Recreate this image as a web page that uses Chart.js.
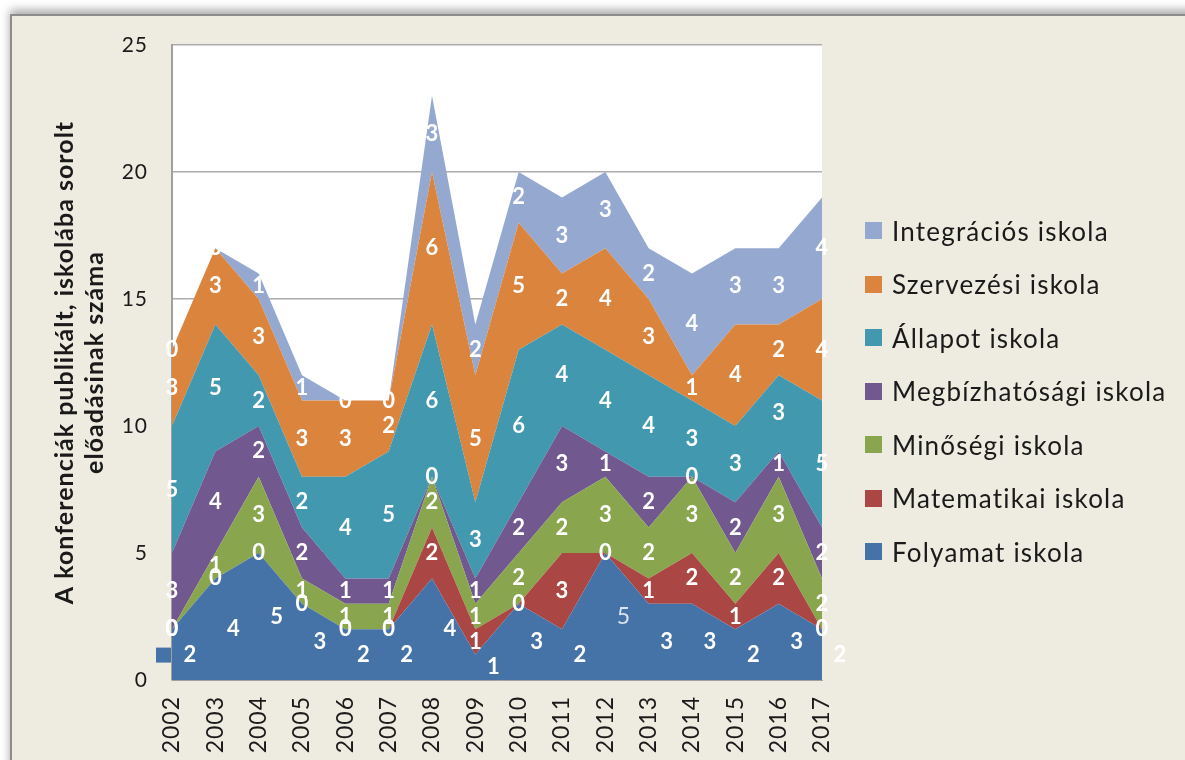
<!DOCTYPE html>
<html lang="hu">
<head>
    <meta charset="UTF-8">
    <title>Iskolába sorolt előadások</title>
    <script src="https://cdn.jsdelivr.net/npm/chart.js"></script>
    <style>
        body { margin: 0; background: #fff; width: 1185px; height: 760px; overflow: hidden; position: relative; }
        #frame {
            position: absolute; left: 10px; top: 14px; width: 1190px; height: 760px;
            background: #EEECE1;
            border-left: 2px solid #8c8c8c; border-top: 2px solid #8c8c8c;
            box-shadow: 0 -4px 9px rgba(0, 0, 0, 0.35);
        }
        #chart { position: absolute; left: 0; top: 0; }
        #legend {
            position: absolute; left: 865px; top: 204px;
            font-family: Lato, "Open Sans", sans-serif; font-size: 26px; letter-spacing: 1.2px; color: #1a1a1a;
        }
        .item { height: 53.5px; display: flex; align-items: center; white-space: nowrap; }
        .box { width: 17px; height: 17px; margin-right: 10px; }
    </style>
</head>
<body>
    <div id="frame"></div>
    <canvas id="chart" width="1185" height="760"></canvas>
    <div id="legend"></div>
    <script>
        const years = ['2002', '2003', '2004', '2005', '2006', '2007', '2008', '2009',
                       '2010', '2011', '2012', '2013', '2014', '2015', '2016', '2017'];

        // stacked from bottom to top
        const folyamat       = [2, 4, 5, 3, 2, 2, 4, 1, 3, 2, 5, 3, 3, 2, 3, 2];
        const matematikai    = [0, 0, 0, 0, 0, 0, 2, 1, 0, 3, 0, 1, 2, 1, 2, 0];
        const minosegi       = [0, 1, 3, 1, 1, 1, 2, 1, 2, 2, 3, 2, 3, 2, 3, 2];
        const megbizhatosagi = [3, 4, 2, 2, 1, 1, 0, 1, 2, 3, 1, 2, 0, 2, 1, 2];
        const allapot        = [5, 5, 2, 2, 4, 5, 6, 3, 6, 4, 4, 4, 3, 3, 3, 5];
        const szervezesi     = [3, 3, 3, 3, 3, 2, 6, 5, 5, 2, 4, 3, 1, 4, 2, 4];
        const integracios    = [0, 0, 1, 1, 0, 0, 3, 2, 2, 3, 3, 2, 4, 3, 3, 4];

        const seriesNames = ['Folyamat iskola', 'Matematikai iskola', 'Minőségi iskola',
                             'Megbízhatósági iskola', 'Állapot iskola', 'Szervezési iskola', 'Integrációs iskola'];
        const seriesData = [folyamat, matematikai, minosegi, megbizhatosagi, allapot, szervezesi, integracios];
        const colors = ['#4572A7', '#AA4643', '#89A54E', '#71588F', '#4198AF', '#DB843D', '#95A9D0'];

        const yTitle = ['A konferenciák publikált, iskolába sorolt', 'előadásinak száma'];

        // legend, top entry is the last series
        const legendEl = document.getElementById('legend');
        for (let i = seriesNames.length - 1; i >= 0; i--) {
            const row = document.createElement('div');
            row.className = 'item';
            row.innerHTML = '<span class="box" style="background:' + colors[i] + '"></span>' + seriesNames[i];
            legendEl.appendChild(row);
        }

        const plotBg = {
            id: 'plotBg',
            beforeInit(chart) {
                chart.ctx.letterSpacing = '1px';  // the original font runs wider than Lato
            },
            beforeDraw(chart) {
                const a = chart.chartArea, c = chart.ctx;
                c.letterSpacing = '1px';
                c.save();
                c.fillStyle = '#fff';
                c.fillRect(a.left, a.top, a.right - a.left, a.bottom - a.top);
                c.restore();
            }
        };

        // white value labels in the middle of every band
        const bandLabels = {
            id: 'bandLabels',
            afterDatasetsDraw(chart) {
                const c = chart.ctx, xs = chart.scales.x, ys = chart.scales.y;
                c.save();
                c.textAlign = 'center';
                c.textBaseline = 'middle';
                c.letterSpacing = '0px';
                years.forEach((yr, j) => {
                    let base = 0;
                    seriesData.forEach((arr, i) => {
                        const v = arr[j];
                        let x = xs.getPixelForValue(j);
                        const y = ys.getPixelForValue(base + v / 2);
                        if (i === 0) {
                            x += 18;
                            if (j === 0) {
                                c.fillStyle = colors[0];
                                c.fillRect(xs.getPixelForValue(0) - 16, y - 7, 15, 15);
                            }
                        }
                        if (i === 0 && j === 10) {
                            c.font = '23px Lato';
                            c.fillStyle = '#dde4ef';
                        } else {
                            c.font = 'bold 22px Lato';
                            c.fillStyle = '#fff';
                        }
                        c.fillText(String(v), x, y);
                        base += v;
                    });
                });
                c.restore();
            }
        };

        const ctx = document.getElementById('chart').getContext('2d');
        new Chart(ctx, {
            type: 'line',
            data: {
                labels: years,
                datasets: seriesData.map((arr, i) => ({
                    label: seriesNames[i],
                    data: arr,
                    backgroundColor: colors[i],
                    borderColor: colors[i],
                    borderWidth: 0,
                    pointRadius: 0,
                    tension: 0,
                    fill: i === 0 ? 'origin' : '-1'
                }))
            },
            options: {
                responsive: false,
                animation: false,
                layout: { padding: { top: 45, right: 363, bottom: 0, left: 0 } },
                plugins: {
                    legend: { display: false },
                    tooltip: { enabled: false }
                },
                scales: {
                    x: {
                        offset: false,
                        grid: { display: false },
                        border: { display: true, color: '#a0a0a0', width: 1 },
                        ticks: {
                            autoSkip: false, minRotation: 90, maxRotation: 90,
                            padding: 8, color: '#1a1a1a',
                            font: { family: 'Lato', size: 23 }
                        },
                        afterFit(s) { s.height = 80; }
                    },
                    y: {
                        stacked: true,
                        min: 0, max: 25,
                        ticks: {
                            stepSize: 5, padding: 24, color: '#1a1a1a',
                            font: { family: 'Lato', size: 21 }
                        },
                        grid: { color: '#acacac', lineWidth: 1.5, drawTicks: false },
                        border: { display: true, color: '#a0a0a0', width: 2 },
                        title: {
                            display: true,
                            text: yTitle,
                            color: '#1a1a1a',
                            padding: { top: 50, bottom: 0 },
                            font: { family: 'Lato', size: 25, weight: 'bold', lineHeight: 30 / 25 }
                        },
                        afterFit(s) { s.width = 172; }
                    }
                }
            },
            plugins: [plotBg, bandLabels]
        });
    </script>
</body>
</html>
